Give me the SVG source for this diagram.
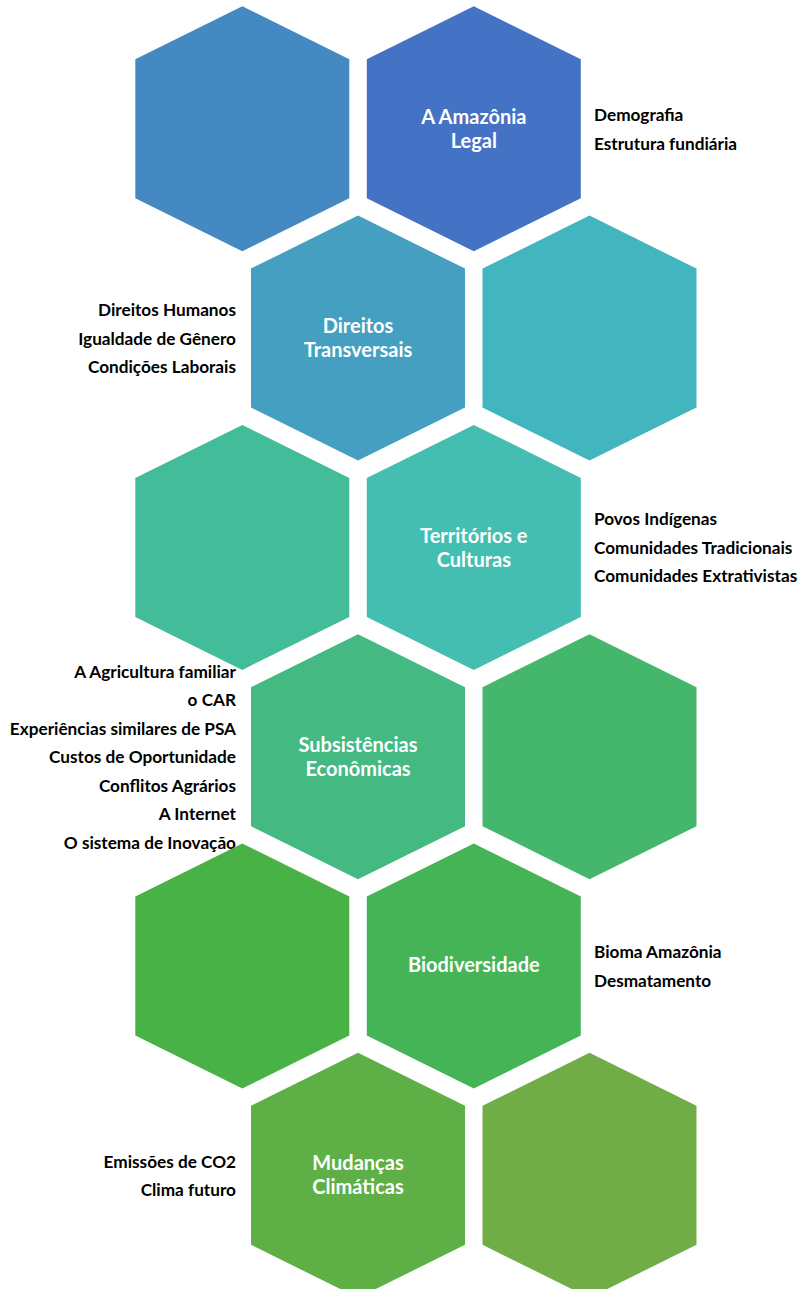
<svg xmlns="http://www.w3.org/2000/svg" xmlns:xlink="http://www.w3.org/1999/xlink" width="798" height="1289" viewBox="0 0 798 1289">
  <style>
    .title { font-family: Lato, "Liberation Sans", sans-serif; font-weight: bold; font-size: 20px; fill: #ffffff; text-anchor: middle; }
    .side { font-family: Lato, "Liberation Sans", sans-serif; font-weight: bold; font-size: 17.2px; fill: #000000; }
    .left { text-anchor: end; }
    .right { text-anchor: start; }
  </style>
  <defs>
    <!-- pointy-top hexagon, origin at the top apex -->
    <polygon id="hex" points="0,0 107,53 107,192 0,245 -107,192 -107,53"/>
  </defs>
  <rect width="798" height="1289" fill="#ffffff"/>

  <!-- row 1 -->
  <g id="hex-blank-1" transform="translate(242.3,6.3)">
    <use href="#hex" fill="#4489C2"/>
  </g>
  <g id="amazonia-legal" transform="translate(473.8,6.3)">
    <use href="#hex" fill="#4472C4"/>
    <text class="title" x="0" y="117.7">A Amazônia</text>
    <text class="title" x="0" y="141.7">Legal</text>
    <text class="side right" x="120.2" y="114.8">Demografia</text>
    <text class="side right" x="120.2" y="143.3">Estrutura fundiária</text>
  </g>

  <!-- row 2 -->
  <g id="direitos-transversais" transform="translate(358,215.6)">
    <use href="#hex" fill="#449FC1"/>
    <text class="title" x="0" y="117.7">Direitos</text>
    <text class="title" x="0" y="141.7">Transversais</text>
    <text class="side left" x="-122" y="100.5">Direitos Humanos</text>
    <text class="side left" x="-122" y="129">Igualdade de Gênero</text>
    <text class="side left" x="-122" y="157.5">Condições Laborais</text>
  </g>
  <g id="hex-blank-2" transform="translate(589.5,215.6)">
    <use href="#hex" fill="#43B5BF"/>
  </g>

  <!-- row 3 -->
  <g id="hex-blank-3" transform="translate(242.3,424.9)">
    <use href="#hex" fill="#43BC99"/>
  </g>
  <g id="territorios-culturas" transform="translate(473.8,424.9)">
    <use href="#hex" fill="#43BEB1"/>
    <text class="title" x="0" y="117.7">Territórios e</text>
    <text class="title" x="0" y="141.7">Culturas</text>
    <text class="side right" x="120.2" y="100.5">Povos Indígenas</text>
    <text class="side right" x="120.2" y="129">Comunidades Tradicionais</text>
    <text class="side right" x="120.2" y="157.5">Comunidades Extrativistas</text>
  </g>

  <!-- row 4 -->
  <g id="subsistencias-economicas" transform="translate(358,634.2)">
    <use href="#hex" fill="#44B982"/>
    <text class="title" x="0" y="117.7">Subsistências</text>
    <text class="title" x="0" y="141.7">Econômicas</text>
    <text class="side left" x="-122" y="43.5">A Agricultura familiar</text>
    <text class="side left" x="-122" y="72">o CAR</text>
    <text class="side left" x="-122" y="100.5">Experiências similares de PSA</text>
    <text class="side left" x="-122" y="129">Custos de Oportunidade</text>
    <text class="side left" x="-122" y="157.5">Conflitos Agrários</text>
    <text class="side left" x="-122" y="186">A Internet</text>
    <text class="side left" x="-122" y="214.5">O sistema de Inovação</text>
  </g>
  <g id="hex-blank-4" transform="translate(589.5,634.2)">
    <use href="#hex" fill="#44B76C"/>
  </g>

  <!-- row 5 -->
  <g id="hex-blank-5" transform="translate(242.3,843.5)">
    <use href="#hex" fill="#49B246"/>
  </g>
  <g id="biodiversidade" transform="translate(473.8,843.5)">
    <use href="#hex" fill="#45B456"/>
    <text class="title" x="0" y="128.2">Biodiversidade</text>
    <text class="side right" x="120.2" y="114.8">Bioma Amazônia</text>
    <text class="side right" x="120.2" y="143.3">Desmatamento</text>
  </g>

  <!-- row 6 -->
  <g id="mudancas-climaticas" transform="translate(358,1052.8)">
    <use href="#hex" fill="#5DAF46"/>
    <text class="title" x="0" y="117.7">Mudanças</text>
    <text class="title" x="0" y="141.7">Climáticas</text>
    <text class="side left" x="-122" y="114.8">Emissões de CO2</text>
    <text class="side left" x="-122" y="143.3">Clima futuro</text>
  </g>
  <g id="hex-blank-6" transform="translate(589.5,1052.8)">
    <use href="#hex" fill="#70AD47"/>
  </g>
</svg>
